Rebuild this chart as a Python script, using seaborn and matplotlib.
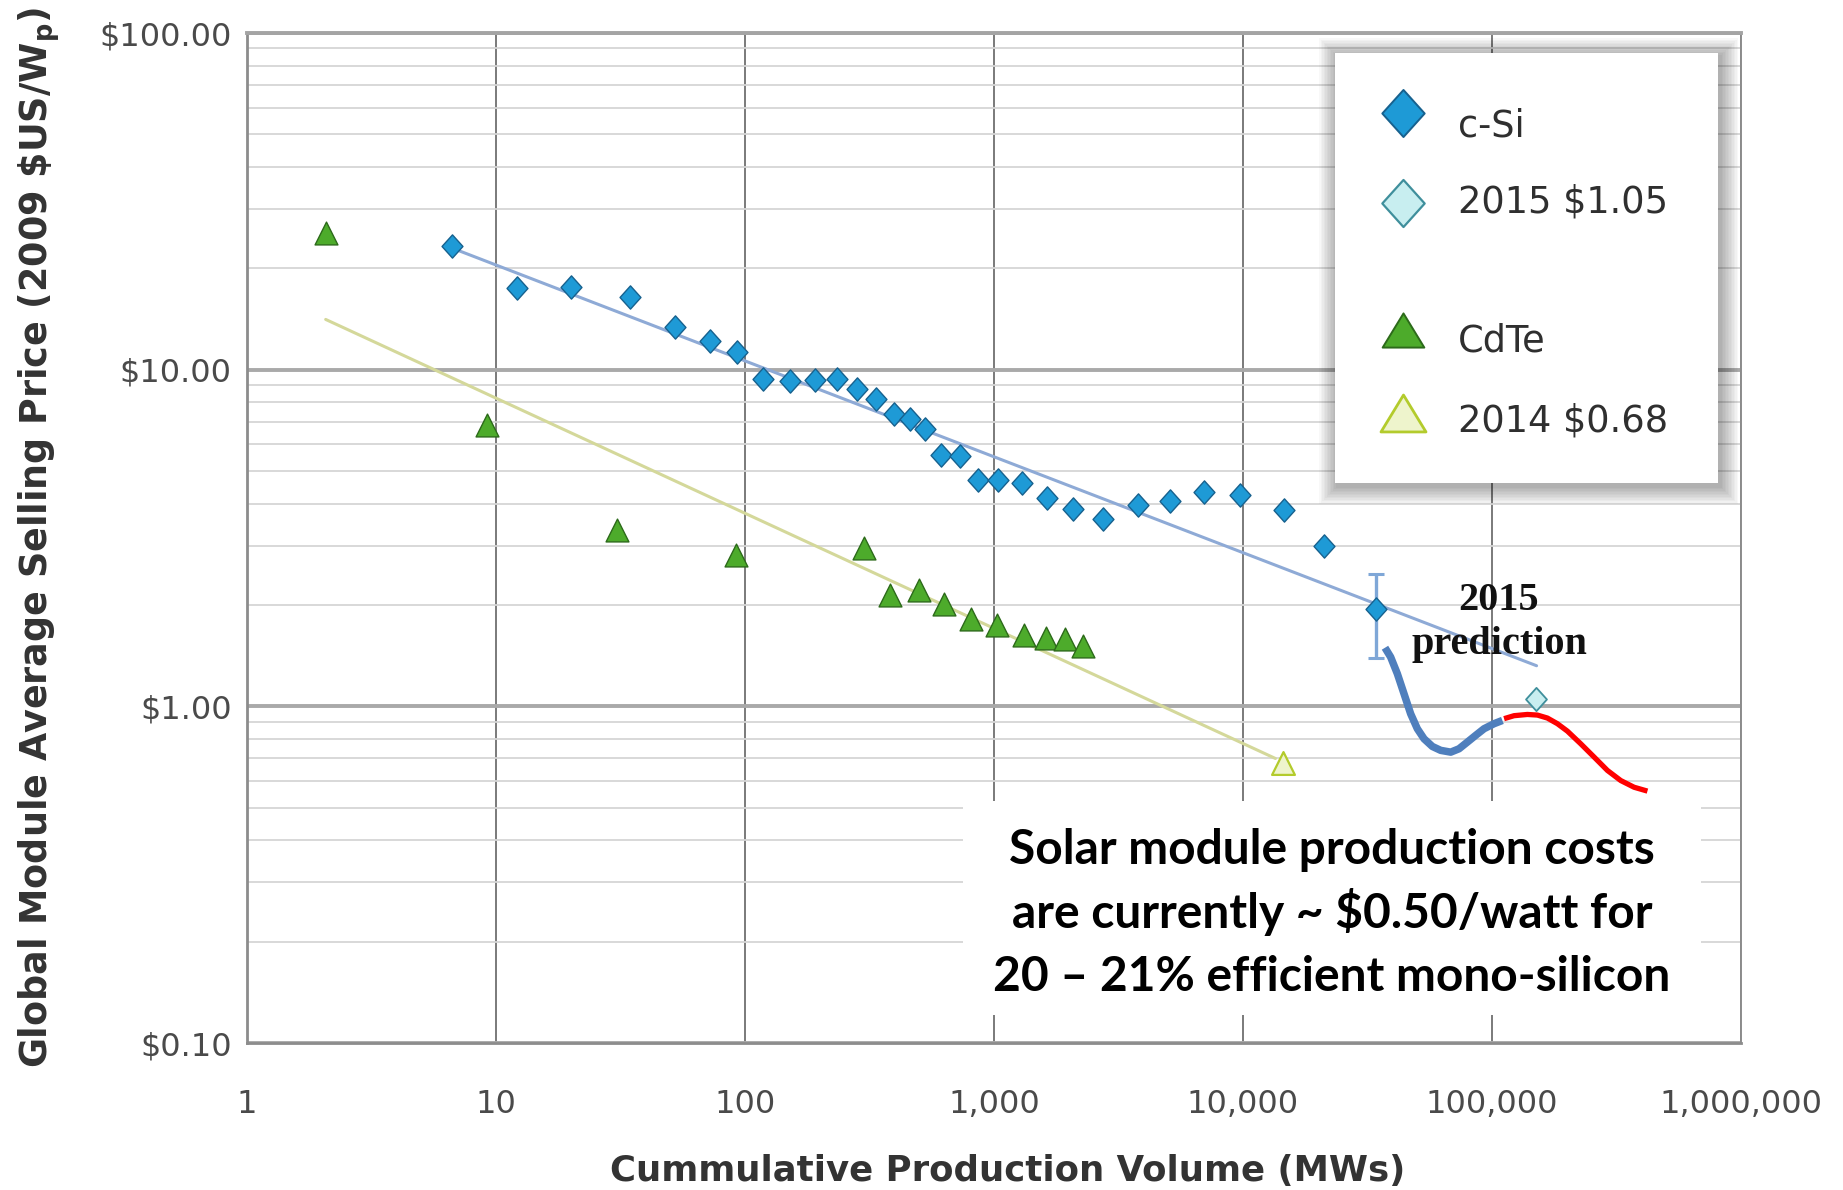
import numpy as np
import matplotlib
matplotlib.use("Agg")
import matplotlib.pyplot as plt
import matplotlib.ticker as mticker
from matplotlib.patches import Rectangle
from matplotlib.path import Path
import seaborn as sns

# ---------------------------------------------------------------- data
# c-Si modules: cumulative production (MW) vs. average selling price (2009 $/Wp)
csi_volume = [6.63, 12.1, 20.1, 34.6, 52.3, 72.5, 93, 118, 152, 191, 234, 282,
              336, 395, 460, 530, 611, 727, 865, 1040, 1290, 1625, 2085, 2735,
              3795, 5085, 6970, 9770, 14590, 21130, 34100]
csi_price = [23.3, 17.5, 17.6, 16.4, 13.4, 12.2, 11.3, 9.4, 9.25, 9.3, 9.4, 8.75,
             8.2, 7.4, 7.15, 6.65, 5.57, 5.55, 4.71, 4.71, 4.6, 4.17, 3.85, 3.61,
             3.97, 4.07, 4.34, 4.25, 3.82, 3.0, 1.94]
csi_last_range = [1.39, 2.47]          # low / high of the last c-Si estimate
csi_2015_volume = [149600]
csi_2015_price = [1.05]
csi_trend_volume = [6.63, 151000]
csi_trend_price = [23.0, 1.32]

# CdTe modules
cdte_volume = [2.07, 9.19, 30.7, 92, 301, 383, 502, 631, 810, 1029, 1321, 1624,
               1932, 2275]
cdte_price = [25.5, 6.87, 3.33, 2.81, 2.95, 2.14, 2.21, 2.01, 1.82, 1.75, 1.63,
              1.60, 1.59, 1.51]
cdte_2014_volume = [14450]
cdte_2014_price = [0.68]
cdte_trend_volume = [2.07, 13500]
cdte_trend_price = [14.1, 0.70]

# hand-drawn cost path sketched onto the chart
path_blue_volume = [37170, 39170, 41670, 44320, 47140, 50130, 53330, 57600, 62220,
                    68270, 73710, 79620, 86000, 92900, 101900, 110100]
path_blue_price = [1.493, 1.401, 1.250, 1.090, 0.950, 0.858, 0.801, 0.760, 0.740,
                   0.731, 0.748, 0.783, 0.820, 0.858, 0.888, 0.908]
path_red_volume = [111800, 122600, 138700, 152200, 166900, 183100, 200800, 227200,
                   257000, 290800, 328900, 372100, 421000]
path_red_price = [0.919, 0.938, 0.946, 0.942, 0.923, 0.888, 0.844, 0.774, 0.707,
                  0.645, 0.602, 0.575, 0.560]

x_ticks = [1, 10, 100, 1000, 10000, 100000, 1000000]
x_tick_labels = ["1", "10", "100", "1,000", "10,000", "100,000", "1,000,000"]
y_ticks = [0.1, 1, 10, 100]
y_tick_labels = [r"\$0.10", r"\$1.00", r"\$10.00", r"\$100.00"]

legend_labels = ["c-Si", r"2015 \$1.05", "CdTe", r"2014 \$0.68"]
prediction_lines = ["2015", "prediction"]
note_lines = ["Solar module production costs",
              r"are currently ~ \$0.50/watt for",
              "20 \u2013 21% efficient mono-silicon"]

# ---------------------------------------------------------------- styling
W, H, DPI = 1843, 1190, 100
sns.set_theme(style="white")
plt.rcParams["font.family"] = ["DejaVu Sans"]
plt.rcParams["mathtext.fontset"] = "dejavusans"

CSI_FILL, CSI_EDGE = "#1e9ad6", "#17618e"
CSI15_FILL, CSI15_EDGE = "#c8eef0", "#3f8f9c"
CDTE_FILL, CDTE_EDGE = "#4dab2b", "#2c6a1a"
CDTE14_FILL, CDTE14_EDGE = "#eef4cc", "#b3cb2c"


def closed_marker(verts):
    codes = [Path.MOVETO] + [Path.LINETO] * (len(verts) - 1) + [Path.CLOSEPOLY]
    return Path(list(verts) + [verts[0]], codes)


diamond = closed_marker([(0, 1), (0.9, 0), (0, -1), (-0.9, 0)])
triangle = closed_marker([(-1, -1), (1, -1), (0, 1)])
wide_triangle = closed_marker([(-1, -0.82), (1, -0.82), (0, 0.82)])


def fig_xy(px, py):
    return px / W, 1 - py / H


fig = plt.figure(figsize=(W / DPI, H / DPI), dpi=DPI)
ax = fig.add_axes([247 / W, 1 - 1043 / H, (1741 - 247) / W, (1043 - 33) / H])
ax.set_xscale("log")
ax.set_yscale("log")

# trend lines
sns.lineplot(x=csi_trend_volume, y=csi_trend_price, color="#8eaad6", lw=2.2,
             sort=False, estimator=None, legend=False, ax=ax, zorder=2)
sns.lineplot(x=cdte_trend_volume, y=cdte_trend_price, color="#d4d89a", lw=2.2,
             sort=False, estimator=None, legend=False, ax=ax, zorder=2)

# uncertainty on the last c-Si estimate
ax.errorbar([csi_volume[-1]], [csi_price[-1]],
            yerr=[[csi_price[-1] - csi_last_range[0]], [csi_last_range[1] - csi_price[-1]]],
            fmt="none", ecolor="#7fa7d7", elinewidth=2.4, capsize=6, capthick=2.2,
            zorder=3)

# data points
sns.scatterplot(x=csi_volume, y=csi_price, marker=diamond, s=280, color=CSI_FILL,
                edgecolor=CSI_EDGE, linewidth=1.0, ax=ax, zorder=4, legend=False)
sns.scatterplot(x=csi_2015_volume, y=csi_2015_price, marker=diamond, s=280,
                color=CSI15_FILL, edgecolor=CSI15_EDGE, linewidth=1.3, ax=ax,
                zorder=4, legend=False)
sns.scatterplot(x=cdte_volume, y=cdte_price, marker=triangle, s=270, color=CDTE_FILL,
                edgecolor=CDTE_EDGE, linewidth=1.0, ax=ax, zorder=4, legend=False)
sns.scatterplot(x=cdte_2014_volume, y=cdte_2014_price, marker=triangle, s=270,
                color=CDTE14_FILL, edgecolor=CDTE14_EDGE, linewidth=1.6, ax=ax,
                zorder=4, legend=False)

# sketched cost path
ax.plot(path_blue_volume, path_blue_price, color="#4f7fbd", lw=5.4,
        solid_capstyle="butt", solid_joinstyle="round", zorder=5)
ax.plot(path_red_volume, path_red_price, color="#ff0000", lw=3.8,
        solid_capstyle="butt", solid_joinstyle="round", zorder=5)

# axes, ticks, grid
ax.set_xlim(1, 1e6)
ax.set_ylim(0.1, 100)
ax.xaxis.set_major_locator(mticker.FixedLocator(x_ticks))
ax.xaxis.set_major_formatter(mticker.FixedFormatter(x_tick_labels))
ax.yaxis.set_major_locator(mticker.FixedLocator(y_ticks))
ax.yaxis.set_major_formatter(mticker.FixedFormatter(y_tick_labels))
for axis in (ax.xaxis, ax.yaxis):
    axis.set_minor_locator(mticker.LogLocator(base=10, subs=np.arange(2, 10), numticks=100))
    axis.set_minor_formatter(mticker.NullFormatter())

ax.tick_params(which="major", direction="out", length=8, width=1.5, color="#8c8c8c",
               labelsize=23, labelcolor="#4a4a4a")
ax.tick_params(axis="x", which="major", pad=25)
ax.tick_params(axis="y", which="major", pad=3)
ax.tick_params(which="minor", direction="out", length=5, width=1.2, color="#a0a0a0")

ax.grid(False)
ax.xaxis.grid(True, which="major", color="#707070", lw=1.3)
ax.yaxis.grid(True, which="major", color="#a9a9a9", lw=2.8)
ax.yaxis.grid(True, which="minor", color="#d6d6d6", lw=1.3)
ax.set_axisbelow(True)

for side in ("left", "bottom"):
    ax.spines[side].set_color("#8c8c8c")
    ax.spines[side].set_linewidth(2.0)
ax.spines["top"].set_color("#a4a4a4")
ax.spines["top"].set_linewidth(2.8)
ax.spines["right"].set_color("#8c8c8c")
ax.spines["right"].set_linewidth(1.4)

ax.set_xlabel("Cummulative Production Volume (MWs)", fontsize=25.6, fontweight="bold",
              color="#333333")
ax.xaxis.set_label_coords(0.509, -0.110)
ax.set_ylabel(r"Global Module Average Selling Price (2009 \$US/W$_\mathregular{p}$)",
              fontsize=26.3, fontweight="bold", color="#333333")
ax.yaxis.set_label_coords(-0.124, 0.5)

# "2015 prediction" note
ax.text(*fig_xy(1499, 610), prediction_lines[0], transform=fig.transFigure,
        ha="center", va="baseline", fontsize=29, fontweight="bold",
        family="Liberation Serif", color="#111111", zorder=6)
ax.text(*fig_xy(1499, 654), prediction_lines[1], transform=fig.transFigure,
        ha="center", va="baseline", fontsize=29, fontweight="bold",
        family="Liberation Serif", color="#111111", zorder=6)

# ---------------------------------------------------------------- legend box
lx, ly, lw_, lh_ = 1335, 53, 383, 430
for i in range(12):
    pad = 1.5 * (i + 1)
    x0, y0 = fig_xy(lx - pad + 2, ly + lh_ + pad + 3)
    fig.add_artist(Rectangle((x0, y0), (lw_ + 2 * pad) / W, (lh_ + 2 * pad) / H,
                             transform=fig.transFigure, facecolor="black",
                             edgecolor="none", alpha=0.028, zorder=2))
lg = fig.add_axes([lx / W, 1 - (ly + lh_) / H, lw_ / W, lh_ / H], zorder=5)
lg.set_facecolor("white")
lg.set_xlim(0, 1)
lg.set_ylim(0, 1)
lg.set_xticks([])
lg.set_yticks([])
for s in lg.spines.values():
    s.set_visible(False)

leg_marker_y = [0.860, 0.651, 0.356, 0.163]
leg_text_y = [0.805, 0.630, 0.305, 0.119]
leg_styles = [(diamond, 1150, CSI_FILL, CSI_EDGE, 1.4),
              (diamond, 1150, CSI15_FILL, CSI15_EDGE, 1.6),
              (wide_triangle, 900, CDTE_FILL, CDTE_EDGE, 1.4),
              (wide_triangle, 1050, CDTE14_FILL, CDTE14_EDGE, 2.0)]
for (mk, sz, fc, ec, lwd), my, ty, lab in zip(leg_styles, leg_marker_y, leg_text_y,
                                              legend_labels):
    lg.scatter([0.178], [my], marker=mk, s=sz, facecolor=fc, edgecolor=ec,
               linewidth=lwd, zorder=3)
    lg.text(0.322, ty, lab, fontsize=26.5, color="#2f2f2f", ha="left",
            va="baseline")

# ---------------------------------------------------------------- cost note
bx0, by0 = fig_xy(963, 1015)
fig.add_artist(Rectangle((bx0, by0), (1701 - 963) / W, (1015 - 801) / H,
                         transform=fig.transFigure, facecolor="white",
                         edgecolor="none", zorder=3))
for line, base in zip(note_lines, [864, 928, 991]):
    fig.text(*fig_xy(1332, base), line, ha="center", va="baseline", fontsize=34.5,
             fontweight="bold", family="Lato", color="black", zorder=4)

fig.savefig("out.png", dpi=DPI, facecolor="white")
